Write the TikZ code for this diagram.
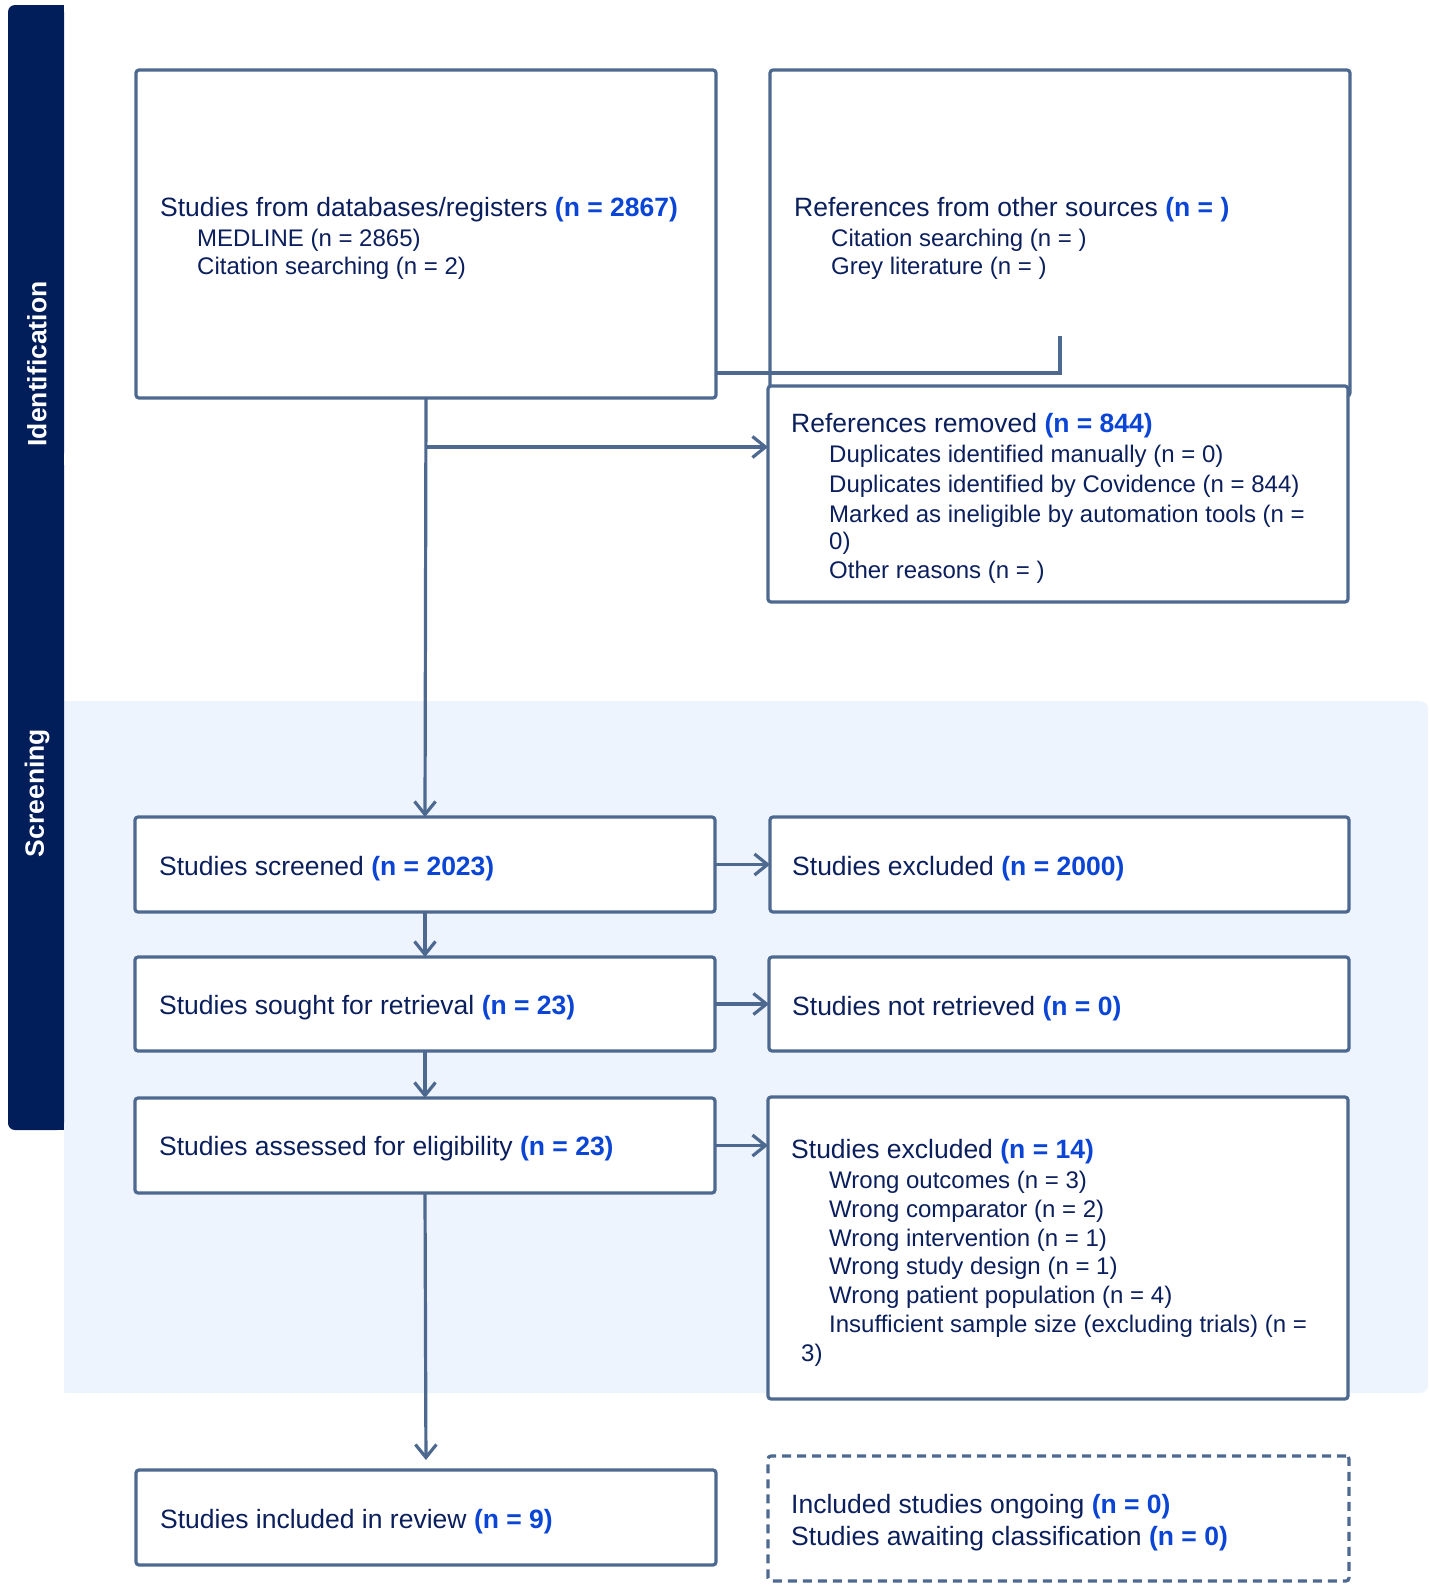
\documentclass[tikz,border=0pt]{standalone}
\usepackage{fontspec}
\setmainfont{Liberation Sans}
\usetikzlibrary{arrows.meta}
\definecolor{navy}{HTML}{0B1F5C}
\definecolor{nblue}{HTML}{0A45D6}
\definecolor{bord}{HTML}{4E6990}
\definecolor{sidebar}{HTML}{011E5B}
\definecolor{lightbg}{HTML}{EEF4FD}
\newcommand\mkbox[6]{\node[#6, minimum width={#4-#2}, minimum height={#5-#3}] (#1) at ({(#2+#4)/2},{(#3+#5)/2}) {};}
\newcommand\nb[1]{\textbf{\color{nblue}#1}}
\begin{document}
\begin{tikzpicture}[x=1pt,y=-1pt,
  boxst/.style={draw=bord, line width=3.2pt, fill=white, rounded corners=3pt, inner sep=0pt, outer sep=0pt},
  dashbox/.style={boxst, dash pattern=on 9pt off 6pt},
  txt/.style={anchor=base west, inner sep=0pt, text=navy, font=\fontsize{26.5}{30}\selectfont},
  sub/.style={txt, font=\fontsize{24}{28}\selectfont},
  lbl/.style={rotate=90, inner sep=0pt, text=white, font=\bfseries\fontsize{26.5}{30}\selectfont},
  conn/.style={draw=bord, line width=3.2pt},
  arr/.style={conn, -{Straight Barb[length=13pt,width=21pt]}}]
\useasboundingbox (0,0) rectangle (1429,1585);
% light screening background
\fill[lightbg, rounded corners=8pt] (64,701) rectangle (1428,1393);
\fill[lightbg] (64,701) rectangle (120,1393);
% sidebars
\fill[sidebar, rounded corners=7pt] (8,5) rectangle (64,460);
\fill[sidebar] (30,5) rectangle (64,460);
\fill[sidebar] (8,430) rectangle (64,460);
\fill[sidebar, rounded corners=7pt] (8,458) rectangle (64,1130);
\fill[sidebar] (8,458) rectangle (64,490);
\fill[sidebar] (30,458) rectangle (64,1130);
\node[lbl] (idlab) at (37,364) {Identification};
\node[lbl] (sclab) at (37,793) {Screening};
% boxes
\mkbox{b1}{136}{70}{716}{398}{boxst}
\mkbox{b2}{770}{70}{1350}{396}{boxst}
\mkbox{rem}{768}{386}{1348}{602}{boxst}
\mkbox{scr}{135}{817}{715}{912}{boxst}
\mkbox{exc}{770}{817}{1349}{912}{boxst}
\mkbox{sou}{135}{957}{715}{1051}{boxst}
\mkbox{nret}{769}{957}{1349}{1051}{boxst}
\mkbox{ass}{135}{1098}{715}{1193}{boxst}
\mkbox{exf}{768}{1097}{1348}{1399}{boxst}
\mkbox{inc}{136}{1470}{716}{1565}{boxst}
\mkbox{ong}{768}{1456}{1349}{1581}{dashbox}
% texts
\node[txt] (b1a) at (160,216) {Studies from databases/registers \nb{(n = 2867)}};
\node[sub] (b1b) at (197,246) {MEDLINE (n = 2865)};
\node[sub] (b1c) at (197,274) {Citation searching (n = 2)};
\node[txt] (b2a) at (794,216) {References from other sources \nb{(n = )}};
\node[sub] (b2b) at (831,246) {Citation searching (n = )};
\node[sub] (b2c) at (831,274) {Grey literature (n = )};
\node[txt] (rema) at (791,432) {References removed \nb{(n = 844)}};
\node[sub] (remb) at (829,462) {Duplicates identified manually (n = 0)};
\node[sub] (remc) at (829,492) {Duplicates identified by Covidence (n = 844)};
\node[sub] (remd) at (829,522) {Marked as ineligible by automation tools (n =};
\node[sub] (reme) at (829,549) {0)};
\node[sub] (remf) at (829,578) {Other reasons (n = )};
\node[txt] (scrt) at (159,875) {Studies screened \nb{(n = 2023)}};
\node[txt] (exct) at (792,875) {Studies excluded \nb{(n = 2000)}};
\node[txt] (sout) at (159,1014) {Studies sought for retrieval \nb{(n = 23)}};
\node[txt] (nrett) at (792,1015) {Studies not retrieved \nb{(n = 0)}};
\node[txt] (asst) at (159,1155) {Studies assessed for eligibility \nb{(n = 23)}};
\node[txt] (exfa) at (791,1158) {Studies excluded \nb{(n = 14)}};
\node[sub] (exfb) at (829,1188) {Wrong outcomes (n = 3)};
\node[sub] (exfc) at (829,1217) {Wrong comparator (n = 2)};
\node[sub] (exfd) at (829,1246) {Wrong intervention (n = 1)};
\node[sub] (exfe) at (829,1274) {Wrong study design (n = 1)};
\node[sub] (exff) at (829,1303) {Wrong patient population (n = 4)};
\node[sub] (exfg) at (829,1332) {Insufficient sample size (excluding trials) (n =};
\node[sub] (exfh) at (801,1361) {3)};
\node[txt] (inct) at (160,1528) {Studies included in review \nb{(n = 9)}};
\node[txt] (onga) at (791,1513) {Included studies ongoing \nb{(n = 0)}};
\node[txt] (ongb) at (791,1545) {Studies awaiting classification \nb{(n = 0)}};
% connectors
\coordinate (stubtop) at (1060,336);
\coordinate (stubbot) at (1060,373);
\draw[conn] (stubtop) -- (stubbot) -- (stubbot -| b1.east);
\coordinate (br) at (426,447);
\draw[arr] (b1.south) -- (scr.north);
\draw[arr] (br) -- (br -| rem.west);
\draw[arr] (scr.east) -- (exc.west);
\draw[arr] (scr.south) -- (sou.north);
\draw[arr] (sou.east) -- (nret.west);
\draw[arr] (sou.south) -- (ass.north);
\draw[arr] (ass.east) -- (ass.east -| exf.west);
\draw[arr, shorten >=10pt] (ass.south) -- (inc.north);
\end{tikzpicture}
\end{document}
